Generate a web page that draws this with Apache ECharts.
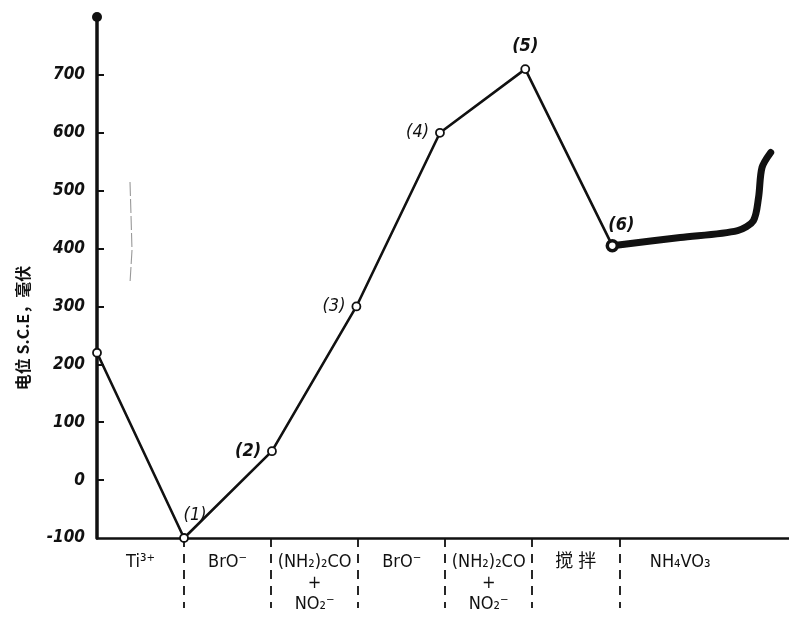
<!DOCTYPE html>
<html>
<head>
<meta charset="utf-8">
<script src="https://cdn.jsdelivr.net/npm/echarts@6/dist/echarts.min.js"></script>
<style>
  html, body { margin: 0; padding: 0; background: #fff; }
  #chart { width: 789px; height: 622px; }
</style>
</head>
<body>
<div id="chart"></div>
<script>
// Potential (mV vs S.C.E.) through successive reagent additions.
// x is measured in stage units: each reagent stage spans one unit.
const stepX = [0, 1, 2.01, 2.98, 3.94, 4.92, 5.92];
const stepY = [220, -100, 50, 300, 600, 710, 405];
const stepLabels = ['', '(1)', '(2)', '(3)', '(4)', '(5)', '(6)'];

// Continuous trace recorded after NH4VO3 addition
const traceX = [5.92, 6.70, 7.36, 7.54, 7.60, 7.64, 7.74];
const traceY = [405, 419, 431, 448, 488, 540, 566];

// Stage boundaries and stage names along the bottom
const boundaries = [1, 2, 3, 4, 5, 6];
const stageAt = [0.5, 1.5, 2.5, 3.5, 4.5, 5.5, 6.7];
const stageNames = ['Ti³⁺', 'BrO⁻', '(NH₂)₂CO\n+\nNO₂⁻', 'BrO⁻', '(NH₂)₂CO\n+\nNO₂⁻', '搅 拌', 'NH₄VO₃'];

const yTicks = [-100, 0, 100, 200, 300, 400, 500, 600, 700];
const yName = '电位 S.C.E，毫伏';

const ink = '#111';
const numFont = '"Liberation Sans Narrow", "DejaVu Sans Condensed", sans-serif';

const chart = echarts.init(document.getElementById('chart'), null, { renderer: 'canvas' });

const labelPlace = {
  '(1)': { position: 'top', offset: [11, -4], fontWeight: 'normal' },
  '(2)': { position: 'left', distance: 6, fontWeight: 'bold' },
  '(3)': { position: 'left', distance: 6, fontWeight: 'normal' },
  '(4)': { position: 'left', distance: 6, fontWeight: 'normal' },
  '(5)': { position: 'top', distance: 9, fontWeight: 'bold' },
  '(6)': { position: 'top', offset: [9, 0], fontWeight: 'bold' }
};

const stepData = stepX.map((x, i) => {
  const item = { value: [x, stepY[i]] };
  const t = stepLabels[i];
  if (t) {
    const p = labelPlace[t];
    item.label = {
      show: true,
      formatter: t,
      position: p.position,
      distance: p.distance == null ? 5 : p.distance,
      offset: p.offset || [0, 0],
      fontWeight: p.fontWeight,
      fontStyle: 'italic',
      fontSize: 18,
      fontFamily: numFont,
      color: ink
    };
  }
  if (i === stepX.length - 1) {
    item.symbolSize = 10;
    item.itemStyle = { borderWidth: 3.5 };
  }
  return item;
});

chart.setOption({
  animation: false,
  backgroundColor: '#fff',
  grid: { left: 97, right: 0, top: 17, bottom: 84, containLabel: false },
  xAxis: {
    type: 'value',
    min: 0,
    max: 7.95,
    interval: 1,
    splitLine: { show: false },
    axisLine: { onZero: false, lineStyle: { color: ink, width: 2.5 } },
    axisTick: {
      customValues: boundaries,
      length: 70,
      lineStyle: { color: ink, width: 1.8, type: [9, 7] }
    },
    axisLabel: {
      customValues: stageAt,
      margin: 14,
      color: ink,
      fontFamily: '"DejaVu Sans Condensed", "Noto Sans CJK SC", sans-serif',
      fontSize: 18,
      lineHeight: 21,
      verticalAlign: 'top',
      formatter: (v) => {
        const i = stageAt.indexOf(v);
        return i >= 0 ? stageNames[i] : '';
      }
    }
  },
  yAxis: {
    type: 'value',
    min: -100,
    max: 800,
    interval: 100,
    splitLine: { show: false },
    axisLine: {
      onZero: false,
      lineStyle: { color: ink, width: 3.5 },
      symbol: ['none', 'circle'],
      symbolSize: [10, 10],
      symbolOffset: [0, 0]
    },
    axisTick: {
      inside: true,
      length: 7,
      customValues: yTicks.filter(v => v > -100),
      lineStyle: { color: ink, width: 2 }
    },
    axisLabel: {
      customValues: yTicks,
      margin: 12,
      color: ink,
      fontFamily: numFont,
      fontStyle: 'italic',
      fontWeight: 'bold',
      fontSize: 17,
      formatter: (v) => String(v)
    }
  },
  graphic: [
    {
      type: 'text',
      x: 23,
      y: 328,
      rotation: Math.PI / 2,
      style: {
        text: yName,
        fill: ink,
        font: 'bold 16px "Noto Sans CJK SC", "DejaVu Sans Condensed", sans-serif',
        align: 'center',
        verticalAlign: 'middle'
      }
    },
    {
      // faint pencil stroke left in the plot area
      type: 'polyline',
      silent: true,
      shape: { points: [[130, 182], [131, 215], [132, 250], [130, 283]] },
      style: { stroke: '#999', lineWidth: 1.1, fill: null, lineDash: [14, 3] }
    }
  ],
  series: [
    {
      name: 'steps',
      type: 'line',
      data: stepData,
      symbol: 'circle',
      symbolSize: 8,
      showAllSymbol: true,
      z: 3,
      lineStyle: { color: ink, width: 2.6 },
      itemStyle: { color: '#fff', borderColor: ink, borderWidth: 1.8 }
    },
    {
      name: 'trace',
      type: 'line',
      data: traceX.map((x, i) => [x, traceY[i]]),
      symbol: 'none',
      smooth: 0.3,
      z: 2,
      lineStyle: { color: ink, width: 7, cap: 'round', join: 'round' }
    }
  ]
});
</script>
</body>
</html>
